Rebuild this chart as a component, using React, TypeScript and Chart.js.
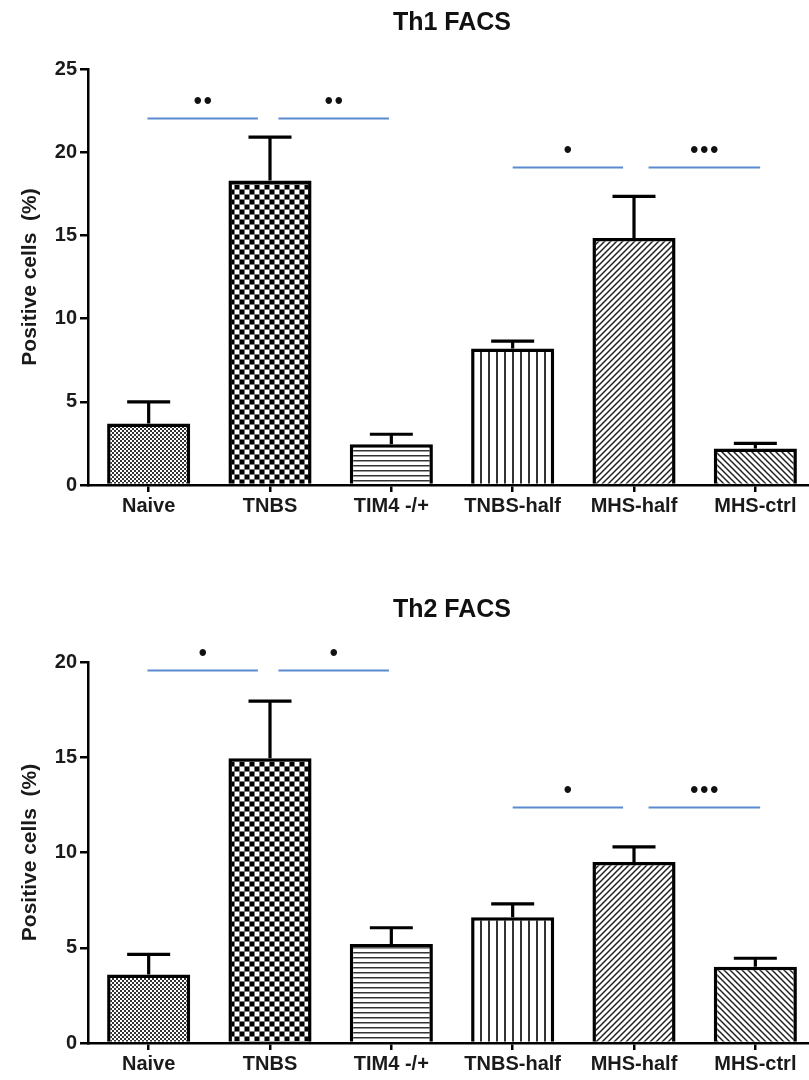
import React, { useEffect, useRef } from 'react';
import { Chart, registerables } from 'chart.js';
Chart.register(...registerables);

const FONT = '"Liberation Sans", Arial, sans-serif';

const categories = ['Naive', 'TNBS', 'TIM4 -/+', 'TNBS-half', 'MHS-half', 'MHS-ctrl'];
const patternKinds = ['fineChecker', 'checker', 'hlines', 'vlines', 'diagR', 'diagL'];

const th1Means = [3.7, 18.3, 2.45, 8.2, 14.85, 2.2];
const th1Sem = [1.3, 2.6, 0.6, 0.45, 2.5, 0.3];
const th1Ticks = [0, 5, 10, 15, 20, 25];
const th1SigY = [22.05, 22.05, 19.1, 19.1];
const th1Stars = ['••', '••', '•', '•••'];

const th2Means = [3.6, 14.95, 5.2, 6.6, 9.5, 4.0];
const th2Sem = [1.05, 3.0, 0.85, 0.7, 0.8, 0.45];
const th2Ticks = [0, 5, 10, 15, 20];
const th2SigY = [19.6, 19.6, 12.4, 12.4];
const th2Stars = ['•', '•', '•', '•••'];

const sigFrom = [-0.01, 1.07, 3.0, 4.12];
const sigTo = [0.9, 1.98, 3.91, 5.04];

function makePattern(kind: string): CanvasPattern | string {
  const c = document.createElement('canvas');
  const g = c.getContext('2d')!;
  let s = 6;
  switch (kind) {
    case 'fineChecker':
      c.width = 4; c.height = 4;
      g.fillStyle = '#fff'; g.fillRect(0, 0, 4, 4);
      g.fillStyle = '#333'; g.fillRect(0, 0, 2, 2); g.fillRect(2, 2, 2, 2);
      break;
    case 'checker':
      c.width = 10; c.height = 10;
      g.fillStyle = '#777'; g.fillRect(0, 0, 10, 10);
      g.fillStyle = '#000'; g.fillRect(0, 0, 4, 4); g.fillRect(5, 5, 4, 4);
      g.fillStyle = '#fff'; g.fillRect(5, 0, 4, 4); g.fillRect(0, 5, 4, 4);
      break;
    case 'hlines':
      c.width = 4; c.height = 5;
      g.fillStyle = '#fff'; g.fillRect(0, 0, 4, 5);
      g.fillStyle = '#333'; g.fillRect(0, 0, 4, 1);
      g.fillStyle = '#999'; g.fillRect(0, 1, 4, 1);
      break;
    case 'vlines':
      c.width = 8; c.height = 4;
      g.fillStyle = '#fff'; g.fillRect(0, 0, 8, 4);
      g.fillStyle = '#333'; g.fillRect(0, 0, 2, 4);
      break;
    case 'diagR':
    case 'diagL':
      s = 6;
      c.width = s; c.height = s;
      g.fillStyle = '#fff'; g.fillRect(0, 0, s, s);
      g.strokeStyle = '#222'; g.lineWidth = 1.5;
      g.beginPath();
      if (kind === 'diagR') {
        g.moveTo(-1, s + 1); g.lineTo(s + 1, -1);
        g.moveTo(-1, 1); g.lineTo(1, -1);
        g.moveTo(s - 1, s + 1); g.lineTo(s + 1, s - 1);
      } else {
        g.moveTo(-1, -1); g.lineTo(s + 1, s + 1);
        g.moveTo(s - 1, -1); g.lineTo(s + 1, 1);
        g.moveTo(-1, s - 1); g.lineTo(1, s + 1);
      }
      g.stroke();
      break;
  }
  const p = g.createPattern(c, 'repeat');
  return p || '#888';
}

const overlayPlugin = {
  id: 'overlay',
  afterDatasetsDraw(chart: any, _args: any, o: any) {
    const { ctx, chartArea } = chart;
    const x = chart.scales.x;
    const y = chart.scales.y;
    ctx.save();
    ctx.strokeStyle = '#000';
    ctx.lineWidth = 3.2;
    ctx.lineCap = 'butt';
    (o.means as number[]).forEach((m, i) => {
      const px = x.getPixelForValue(i);
      const y0 = y.getPixelForValue(m);
      const y1 = y.getPixelForValue(m + o.sem[i]);
      ctx.beginPath();
      ctx.moveTo(px, y0);
      ctx.lineTo(px, y1);
      ctx.moveTo(px - o.capHalf, y1);
      ctx.lineTo(px + o.capHalf, y1);
      ctx.stroke();
    });
    ctx.strokeStyle = '#5a8bd0';
    ctx.lineWidth = 2;
    (o.sigY as number[]).forEach((v, i) => {
      const py = Math.round(y.getPixelForValue(v)) + 0.5;
      const xa = x.getPixelForValue(o.sigFrom[i]);
      const xb = x.getPixelForValue(o.sigTo[i]);
      ctx.beginPath();
      ctx.moveTo(xa, py);
      ctx.lineTo(xb, py);
      ctx.stroke();
      const star: string = o.stars[i];
      const n = star.length;
      const cx = (xa + xb) / 2;
      ctx.fillStyle = '#111';
      ctx.font = 'bold 23px ' + FONT;
      ctx.textAlign = 'center';
      ctx.textBaseline = 'middle';
      for (let k = 0; k < n; k++) {
        ctx.fillText(star[k], cx + (k - (n - 1) / 2) * 10, py - 16);
      }
    });
    ctx.fillStyle = '#111';
    ctx.font = 'bold 25px ' + FONT;
    ctx.textAlign = 'center';
    ctx.textBaseline = 'middle';
    ctx.fillText(o.title, (chartArea.left + chartArea.right) / 2, o.titleY);
    ctx.restore();
  },
};

type Props = {
  title: string;
  means: number[];
  sem: number[];
  ticks: number[];
  sigY: number[];
  stars: string[];
  height: number;
  padTop: number;
  titleY: number;
};

function FacsChart(p: Props) {
  const ref = useRef<HTMLCanvasElement>(null);
  useEffect(() => {
    const patterns = patternKinds.map(makePattern);
    const max = p.ticks[p.ticks.length - 1];
    const chart = new Chart(ref.current!, {
      type: 'bar',
      data: {
        labels: categories,
        datasets: [
          {
            data: p.means,
            backgroundColor: patterns as any,
            borderColor: '#000',
            borderWidth: 3.5,
            barPercentage: 0.685,
            categoryPercentage: 1,
          },
        ],
      },
      options: {
        responsive: false,
        animation: false,
        layout: { padding: { top: p.padTop, bottom: 0, left: 0, right: 0 } },
        plugins: {
          legend: { display: false },
          tooltip: { enabled: false },
          title: { display: false },
          overlay: {
            means: p.means,
            sem: p.sem,
            capHalf: 21.5,
            sigY: p.sigY,
            sigFrom,
            sigTo,
            stars: p.stars,
            title: p.title,
            titleY: p.titleY,
          },
        } as any,
        scales: {
          x: {
            grid: {
              offset: false,
              drawOnChartArea: false,
              drawTicks: true,
              tickLength: 7,
              color: '#000',
              lineWidth: 2.5,
            },
            border: { color: '#000', width: 2.5 },
            ticks: {
              color: '#1a1a1a',
              font: { family: FONT, size: 20, weight: 'bold' },
              padding: 2,
              maxRotation: 0,
              autoSkip: false,
            },
            afterFit: (s: any) => {
              s.height = 37;
            },
          },
          y: {
            min: 0,
            max,
            grid: {
              drawOnChartArea: false,
              drawTicks: true,
              tickLength: 8,
              color: '#000',
              lineWidth: 2.5,
            },
            border: { color: '#000', width: 2.5 },
            ticks: {
              color: '#1a1a1a',
              font: { family: FONT, size: 20, weight: 'bold' },
              padding: 3,
            },
            afterBuildTicks: (s: any) => {
              s.ticks = p.ticks.map((v) => ({ value: v }));
            },
            title: {
              display: true,
              text: 'Positive cells  (%)',
              color: '#1a1a1a',
              font: { family: FONT, size: 21, weight: 'bold' },
              padding: { top: 18, bottom: 0 },
            },
            afterFit: (s: any) => {
              s.width = 88;
            },
          },
        },
      } as any,
      plugins: [overlayPlugin],
    });
    return () => chart.destroy();
  }, []);
  return <canvas ref={ref} width={816} height={p.height} style={{ display: 'block' }} />;
}

export default function App() {
  return (
    <div
      style={{
        position: 'absolute',
        left: 0,
        top: 0,
        width: 809,
        height: 1080,
        overflow: 'hidden',
        background: '#fff',
      }}
    >
      <FacsChart
        title="Th1 FACS"
        means={th1Means}
        sem={th1Sem}
        ticks={th1Ticks}
        sigY={th1SigY}
        stars={th1Stars}
        height={522}
        padTop={69}
        titleY={23}
      />
      <FacsChart
        title="Th2 FACS"
        means={th2Means}
        sem={th2Sem}
        ticks={th2Ticks}
        sigY={th2SigY}
        stars={th2Stars}
        height={558}
        padTop={140}
        titleY={88}
      />
    </div>
  );
}
